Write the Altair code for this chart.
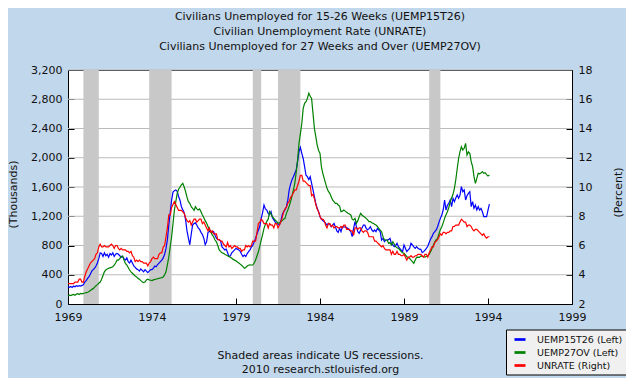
import altair as alt
import pandas as pd

# ---------------- data (monthly, Jan 1969 - Feb 1994) ----------------
start_year = 1969

uemp15t26 = [
    235, 228, 240, 226, 245, 236, 250, 241, 252, 246, 255, 262,      # 1969
    300, 320, 350, 375, 410, 450, 470, 490, 520, 560, 620, 700,      # 1970
    690, 650, 700, 660, 680, 640, 690, 670, 700, 650, 680, 690,      # 1971
    680, 660, 640, 650, 620, 600, 630, 580, 560, 600, 560, 520,      # 1972
    500, 480, 470, 450, 480, 460, 440, 470, 450, 430, 450, 470,      # 1973
    470, 490, 520, 510, 540, 560, 580, 600, 630, 680, 760, 880,      # 1974
    1080, 1250, 1420, 1530, 1550, 1560, 1540, 1470, 1420, 1330, 1290, 1250,  # 1975
    1150, 1000, 900, 810, 950, 1080, 1100, 1110, 1080, 1040, 1020, 980,      # 1976
    950, 900, 810, 850, 980, 990, 1000, 980, 990, 940, 900, 880,     # 1977
    880, 860, 780, 760, 740, 750, 700, 650, 660, 700, 720, 740,      # 1978
    760, 750, 740, 720, 680, 650, 670, 650, 690, 715, 740, 780,      # 1979
    800, 850, 900, 960, 1012, 1060, 1170, 1250, 1354, 1300, 1285, 1240,      # 1980
    1220, 1262, 1180, 1150, 1120, 1103, 1090, 1080, 1130, 1217, 1260, 1290,  # 1981
    1331, 1420, 1560, 1640, 1700, 1741, 1787, 1832, 1950, 2083, 2142, 2060,  # 1982
    1990, 1880, 1760, 1741, 1700, 1741, 1650, 1560, 1468, 1377, 1308, 1262,  # 1983
    1194, 1160, 1140, 1126, 1103, 1080, 1103, 1090, 1057, 1080, 1103, 1057,  # 1984
    1000, 980, 1035, 989, 1057, 1050, 1057, 1040, 1035, 1010, 989, 921,      # 1985
    1035, 1126, 1057, 989, 966, 1012, 1040, 1080, 1080, 1035, 1012, 1030,    # 1986
    1057, 1012, 989, 1012, 989, 1035, 1010, 989, 875, 898, 852, 875,         # 1987
    875, 880, 898, 830, 807, 784, 800, 830, 784, 761, 738, 716,      # 1988
    807, 761, 716, 740, 761, 830, 807, 780, 761, 784, 761, 750,      # 1989
    747, 702, 716, 738, 760, 790, 840, 890, 921, 966, 989, 1012,     # 1990
    1057, 1120, 1171, 1217, 1285, 1422, 1285, 1350, 1377, 1422, 1331, 1445,  # 1991
    1399, 1450, 1490, 1445, 1490, 1604, 1536, 1559, 1422, 1480, 1513, 1536,  # 1992
    1331, 1399, 1308, 1354, 1285, 1331, 1285, 1308, 1262, 1194, 1194, 1194,  # 1993
    1285, 1367,                                                      # 1994
]

uemp27ov = [
    110, 120, 115, 125, 130, 120, 135, 140, 130, 145, 140, 146,      # 1969
    150, 155, 160, 170, 185, 200, 210, 230, 250, 265, 283, 300,      # 1970
    340, 390, 440, 465, 480, 488, 495, 500, 510, 530, 560, 600,      # 1971
    600, 620, 650, 657, 600, 556, 533, 500, 465, 440, 420, 400,      # 1972
    383, 370, 350, 340, 320, 305, 292, 300, 330, 340, 330, 325,      # 1973
    320, 330, 337, 340, 345, 350, 355, 360, 370, 397, 440, 540,      # 1974
    640, 780, 920, 1100, 1286, 1400, 1514, 1570, 1600, 1628, 1650, 1600,     # 1975
    1537, 1460, 1400, 1377, 1330, 1309, 1280, 1331, 1300, 1286, 1300, 1260,  # 1976
    1217, 1180, 1140, 1103, 1060, 1012, 990, 944, 920, 875, 850, 800,        # 1977
    740, 720, 700, 693, 680, 670, 660, 648, 640, 625, 610, 600,      # 1978
    590, 575, 560, 545, 530, 510, 490, 500, 520, 530, 535, 533,      # 1979
    533, 560, 600, 660, 715, 790, 875, 950, 1035, 1090, 1130, 1160,  # 1980
    1262, 1230, 1194, 1170, 1149, 1130, 1103, 1110, 1126, 1140, 1160, 1171,  # 1981
    1240, 1285, 1340, 1399, 1480, 1560, 1650, 1800, 1969, 2197, 2330, 2470,  # 1982
    2675, 2744, 2767, 2812, 2881, 2840, 2812, 2607, 2402, 2288, 2174, 2100,  # 1983
    2060, 1878, 1787, 1718, 1650, 1582, 1540, 1513, 1468, 1422, 1400, 1377,  # 1984
    1377, 1354, 1340, 1262, 1270, 1285, 1270, 1255, 1240, 1230, 1217, 1160,  # 1985
    1149, 1171, 1103, 1140, 1194, 1240, 1217, 1200, 1185, 1171, 1150, 1126,  # 1986
    1126, 1110, 1103, 1090, 1080, 1060, 1035, 1010, 989, 921, 875, 875,      # 1987
    875, 830, 840, 807, 852, 820, 784, 770, 761, 740, 716, 700,      # 1988
    693, 670, 647, 635, 624, 600, 579, 556, 600, 638, 640, 638,      # 1989
    656, 650, 647, 640, 652, 656, 680, 716, 760, 807, 850, 880,      # 1990
    898, 960, 1020, 1057, 1110, 1171, 1220, 1262, 1320, 1399, 1450, 1500,    # 1991
    1582, 1700, 1850, 1990, 2083, 2151, 2106, 2129, 2197, 2037, 2080, 2060,  # 1992
    1946, 1878, 1741, 1650, 1718, 1787, 1780, 1790, 1810, 1787, 1796, 1770,  # 1993
    1750, 1764,                                                      # 1994
]

unrate = [
    3.4, 3.4, 3.4, 3.4, 3.4, 3.5, 3.5, 3.5, 3.7, 3.7, 3.5, 3.5,      # 1969
    3.9, 4.2, 4.4, 4.6, 4.8, 4.9, 5.0, 5.1, 5.4, 5.5, 5.9, 6.1,      # 1970
    5.9, 5.9, 6.0, 5.9, 5.9, 5.9, 6.0, 6.1, 6.0, 5.8, 6.0, 6.0,      # 1971
    5.8, 5.7, 5.8, 5.7, 5.7, 5.7, 5.6, 5.6, 5.5, 5.6, 5.3, 5.2,      # 1972
    4.9, 5.0, 4.9, 5.0, 4.9, 4.9, 4.8, 4.8, 4.8, 4.6, 4.8, 4.9,      # 1973
    5.1, 5.2, 5.1, 5.1, 5.1, 5.4, 5.5, 5.5, 5.9, 6.0, 6.6, 7.2,      # 1974
    8.1, 8.1, 8.6, 8.8, 9.0, 8.8, 8.6, 8.4, 8.4, 8.4, 8.3, 8.2,      # 1975
    7.9, 7.7, 7.6, 7.7, 7.4, 7.6, 7.8, 7.8, 7.6, 7.7, 7.8, 7.8,      # 1976
    7.5, 7.6, 7.4, 7.2, 7.0, 7.2, 6.9, 7.0, 6.8, 6.8, 6.8, 6.4,      # 1977
    6.4, 6.3, 6.3, 6.1, 6.0, 5.9, 6.2, 5.9, 6.0, 5.8, 5.9, 6.0,      # 1978
    5.9, 5.9, 5.8, 5.8, 5.6, 5.7, 5.7, 6.0, 5.9, 6.0, 5.9, 6.0,      # 1979
    6.3, 6.3, 6.3, 6.9, 7.5, 7.6, 7.8, 7.7, 7.5, 7.5, 7.5, 7.2,      # 1980
    7.5, 7.4, 7.4, 7.2, 7.5, 7.5, 7.2, 7.4, 7.6, 7.9, 8.3, 8.5,      # 1981
    8.6, 8.9, 9.0, 9.3, 9.4, 9.6, 9.8, 9.8, 10.1, 10.4, 10.8, 10.8,  # 1982
    10.4, 10.4, 10.3, 10.2, 10.1, 10.1, 9.4, 9.5, 9.2, 8.8, 8.5, 8.3,  # 1983
    8.0, 7.8, 7.8, 7.7, 7.4, 7.2, 7.5, 7.5, 7.3, 7.4, 7.2, 7.3,      # 1984
    7.3, 7.2, 7.2, 7.3, 7.2, 7.4, 7.4, 7.1, 7.1, 7.1, 7.0, 7.0,      # 1985
    6.7, 7.2, 7.2, 7.1, 7.2, 7.2, 7.0, 6.9, 7.0, 7.0, 6.9, 6.6,      # 1986
    6.6, 6.6, 6.6, 6.3, 6.3, 6.2, 6.1, 6.0, 5.9, 6.0, 5.8, 5.7,      # 1987
    5.7, 5.7, 5.7, 5.4, 5.6, 5.4, 5.4, 5.6, 5.4, 5.4, 5.3, 5.3,      # 1988
    5.4, 5.2, 5.0, 5.2, 5.2, 5.3, 5.2, 5.2, 5.3, 5.3, 5.4, 5.4,      # 1989
    5.4, 5.3, 5.2, 5.4, 5.4, 5.2, 5.5, 5.7, 5.9, 5.9, 6.2, 6.3,      # 1990
    6.4, 6.6, 6.8, 6.7, 6.9, 6.9, 6.8, 6.9, 6.9, 7.0, 7.0, 7.3,      # 1991
    7.3, 7.4, 7.4, 7.4, 7.6, 7.8, 7.7, 7.6, 7.6, 7.3, 7.4, 7.4,      # 1992
    7.3, 7.1, 7.0, 7.1, 7.1, 7.0, 6.9, 6.8, 6.7, 6.8, 6.6, 6.5,      # 1993
    6.6, 6.6,                                                        # 1994
]

rec_start = [1969.917, 1973.833, 1980.0, 1981.5, 1990.5]
rec_end = [1970.833, 1975.167, 1980.5, 1982.833, 1991.167]

x_ticks = [1969, 1974, 1979, 1984, 1989, 1994, 1999]
left_ticks = [0, 400, 800, 1200, 1600, 2000, 2400, 2800, 3200]
right_ticks = [2, 4, 6, 8, 10, 12, 14, 16, 18]
grid_vals = [400, 800, 1200, 1600, 2000, 2400, 2800, 3200]

names = ["UEMP15T26 (Left)", "UEMP27OV (Left)", "UNRATE (Right)"]
colors = ["#0000FF", "#008000", "#FF0000"]

title_lines = [
    "Civilians Unemployed for 15-26 Weeks (UEMP15T26)",
    "Civilian Unemployment Rate (UNRATE)",
    "Civilians Unemployed for 27 Weeks and Over (UEMP27OV)",
]
note_lines = ["Shaded areas indicate US recessions.", "2010 research.stlouisfed.org"]

# ---------------- tables ----------------
n = len(unrate)
t = [start_year + i / 12 for i in range(n)]
lines_df = pd.DataFrame({
    "t": t + t,
    "v": uemp15t26[:n] + uemp27ov[:n],
    "s": [names[0]] * n + [names[1]] * n,
})
rate_df = pd.DataFrame({"t": t, "v": unrate, "s": [names[2]] * n})
rec_df = pd.DataFrame({"a": rec_start, "b": rec_end})
grid_df = pd.DataFrame({"g": grid_vals})

# ---------------- styling ----------------
FONT = "DejaVu Sans"
TXT = "#111111"
BG = "#C1D7EB"

xs = alt.Scale(domain=[1969, 1999], nice=False, zero=False)
yl = alt.Scale(domain=[0, 3200], nice=False, zero=True)
yr = alt.Scale(domain=[2, 18], nice=False, zero=False)
cs = alt.Scale(domain=names, range=colors)

common = dict(
    grid=False, domain=False, offset=-6, tickSize=6, tickColor="#000000",
    tickWidth=1, labelFont=FONT, labelFontSize=11, labelColor=TXT,
    labelFlush=False, labelOverlap=False, titleFont=FONT, titleFontSize=11,
    titleFontWeight="normal", titleColor=TXT,
)

x_axis = alt.Axis(values=x_ticks, format="d", title=note_lines, labelPadding=7,
                  titleBaseline="top", titleY=51, titleLineHeight=14.5, **common)
yl_axis = alt.Axis(values=left_ticks, format=",d", title="(Thousands)", labelPadding=6,
                   titleAngle=270, titleAlign="center", titleBaseline="middle",
                   titleX=-61, titleY=124, **common)
yr_axis = alt.Axis(values=right_ticks, format="d", title="(Percent)", orient="right",
                   labelPadding=6, titleAngle=270, titleAlign="center",
                   titleBaseline="middle", titleX=52, titleY=122, **common)

legend = alt.Legend(
    orient="none", legendX=438, legendY=259.5, title=None,
    fillColor="#F0F0F0", strokeColor="#000000", padding=3,
    symbolType="stroke", symbolSize=121, symbolStrokeWidth=2.7, symbolOffset=4,
    labelFont=FONT, labelFontSize=9.5, labelColor=TXT, labelOffset=10,
    rowPadding=0,
)

X = alt.X("t:Q", scale=xs, axis=x_axis)

grid = alt.Chart(grid_df).mark_rule(color="#BBBBBB", strokeWidth=1).encode(
    y=alt.Y("g:Q", scale=yl, axis=yl_axis)
)
rec = alt.Chart(rec_df).mark_rect(color="#C8C8C8").encode(
    x=alt.X("a:Q", scale=xs, axis=x_axis), x2="b:Q"
)
lines = alt.Chart(lines_df).mark_line(strokeWidth=1.2).encode(
    x=X,
    y=alt.Y("v:Q", scale=yl, axis=yl_axis),
    color=alt.Color("s:N", scale=cs, legend=legend),
)
rate = alt.Chart(rate_df).mark_line(strokeWidth=1.2).encode(
    x=X,
    y=alt.Y("v:Q", scale=yr, axis=yr_axis),
    color=alt.Color("s:N", scale=cs, legend=legend),
)

chart = (
    alt.layer(alt.layer(grid, rec, lines), rate)
    .resolve_scale(y="independent")
    .properties(
        width=504,
        height=234,
        background=BG,
        padding={"left": 60, "top": 62, "right": 54, "bottom": 74},
        autosize=alt.AutoSizeParams(type="none"),
        title=alt.TitleParams(
            text=title_lines, font=FONT, fontSize=11, fontWeight="normal",
            color=TXT, anchor="middle", offset=12, lineHeight=15,
        ),
    )
    .configure_view(fill="white", stroke="#000000", strokeWidth=1)
)

chart.save("out.html", embed_options={"renderer": "svg", "actions": False})
